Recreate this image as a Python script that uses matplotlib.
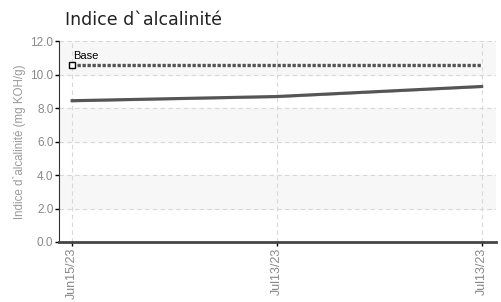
import numpy as np
import matplotlib
matplotlib.use("Agg")
import matplotlib.pyplot as plt

dates = ["Jun15/23", "Jul13/23", "Jul13/23"]
values = [8.4, 8.65, 9.25]
base = [10.6, 10.6, 10.6]
yticks = [0.0, 2.0, 4.0, 6.0, 8.0, 10.0, 12.0]

plt.rcParams['font.family'] = ['Liberation Sans', 'DejaVu Sans']

fig = plt.figure(figsize=(5.02, 3.02), dpi=100)
ax = fig.add_axes([0.1175, 0.1987, 0.8705, 0.6653])

x = np.arange(len(dates))

# bandes grises alternees
for i in range(0, len(yticks) - 1):
    if i % 2 == 1:
        ax.axhspan(yticks[i], yticks[i + 1], color='#f7f7f7', zorder=0)

ax.plot(x, values, color='#aaaaaa', lw=1.5, zorder=2)
ax.plot(x, np.array(values) + 0.04, color='#555555', lw=2.2, zorder=3)
ax.plot(x, base, color='#555555', lw=2.4, ls=(0, (1, 0.5)), zorder=3)
ax.plot(x[0], base[0], marker='s', ms=4.5, mfc='white', mec='black', mew=1, zorder=4)
ax.text(x[0] + 0.003, base[0] + 0.2, "Base", fontsize=8, color='black', va='bottom')

ax.set_xlim(-0.064, 2.07)
ax.set_ylim(0, 12)
ax.set_xticks(x)
ax.set_xticklabels(dates, rotation=90, fontsize=9, color='#888888')
ax.set_yticks(yticks)
ax.set_yticklabels(["%.1f" % v for v in yticks], fontsize=8.5, color='#888888')
ax.tick_params(length=3, width=1, color='black', pad=1)

ax.grid(True, color='#d8d8d8', ls=(0, (4, 3)), lw=0.8)
ax.set_axisbelow(True)
for s in ['top', 'right']:
    ax.spines[s].set_visible(False)
ax.spines['left'].set_color('#333333')
ax.spines['bottom'].set_color('#444444')
ax.spines['bottom'].set_linewidth(2)

ax.set_ylabel("Indice d`alcalinité (mg KOH/g)", fontsize=8.3, color='#999999', labelpad=3)
fig.text(0.13, 0.917, "Indice d`alcalinité", fontsize=12.5, color='#222222',
         family='DejaVu Sans', va='baseline')

fig.savefig("out.png", dpi=100)
